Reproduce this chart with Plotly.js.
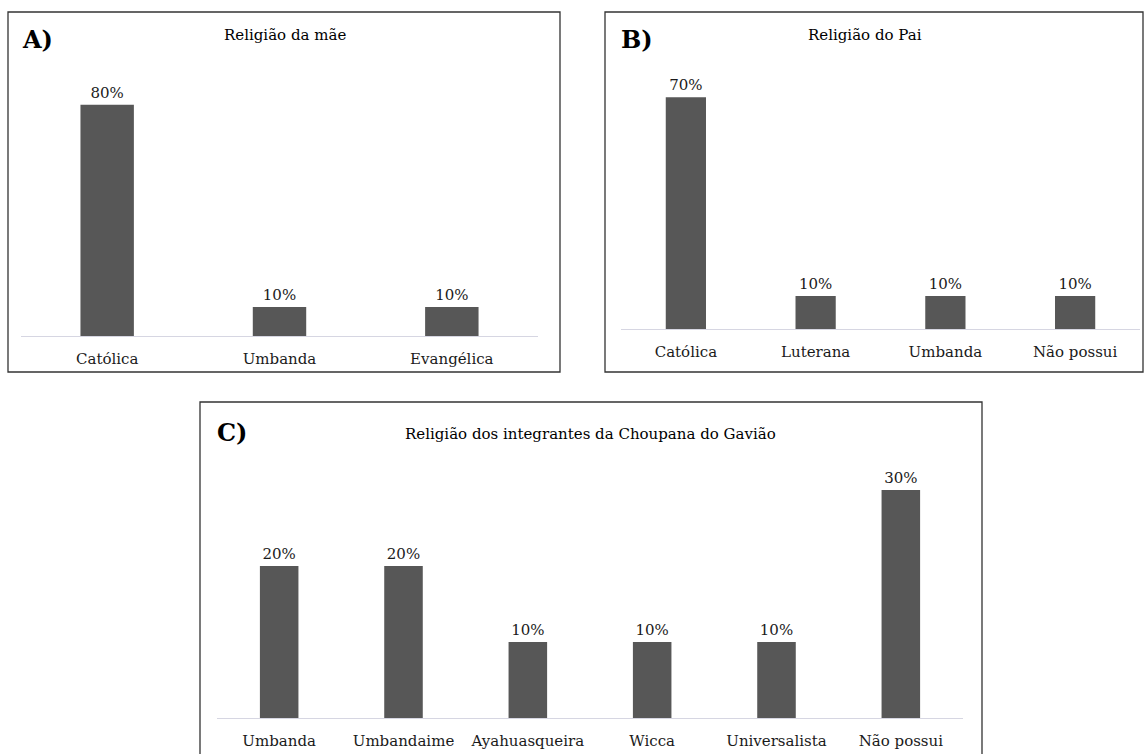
<!DOCTYPE html>
<html>
<head>
<meta charset="utf-8">
<script src="https://cdn.plot.ly/plotly-3.0.1.min.js"></script>
<style>html,body{margin:0;padding:0;background:#fff;}#chart{width:1145px;height:754px;}</style>
</head>
<body>
<div id="chart"></div>
<script>
// ---- Data ----
const maeCategories = ["Católica", "Umbanda", "Evangélica"];
const maeValues = [80, 10, 10];
const paiCategories = ["Católica", "Luterana", "Umbanda", "Não possui"];
const paiValues = [70, 10, 10, 10];
const grupoCategories = ["Umbanda", "Umbandaime", "Ayahuasqueira", "Wicca", "Universalista", "Não possui"];
const grupoValues = [20, 20, 10, 10, 10, 30];
const titles = ["Religião da mãe", "Religião do Pai", "Religião dos integrantes da Choupana do Gavião"];
const panelLabels = ["A)", "B)", "C)"];

// ---- Layout helpers ----
const W = 1145, H = 754;
const px = x => x / W;
const py = y => 1 - y / H;
const FONT = "'DejaVu Serif', serif";
const barColor = "#575757";
const txtColor = "#1a1a1a";

function barTrace(cats, vals, xa, ya) {
  return {
    type: "bar", x: cats, y: vals, xaxis: xa, yaxis: ya,
    marker: {color: barColor, line: {width: 0}},
    text: vals.map(v => v + "%"), textposition: "outside",
    textfont: {family: FONT, size: 15, color: txtColor},
    cliponaxis: false, hoverinfo: "skip"
  };
}

const data = [
  barTrace(maeCategories, maeValues, "x", "y"),
  barTrace(paiCategories, paiValues, "x2", "y2"),
  barTrace(grupoCategories, grupoValues, "x3", "y3")
];

function xax(d0, d1, anchor) {
  return {domain: [px(d0), px(d1)], anchor: anchor, showline: true, linecolor: "#d6d6e2", linewidth: 1,
    showgrid: false, zeroline: false, ticks: "", ticklabelstandoff: 9,
    tickfont: {family: FONT, size: 15, color: txtColor}, fixedrange: true};
}
function yax(base, top, pxPer10, anchor) {
  return {domain: [py(base), py(top)], anchor: anchor, range: [0, (base - top) / pxPer10 * 10],
    visible: false, showgrid: false, zeroline: false, fixedrange: true};
}

function ann(text, x, y, size, bold, xanchor) {
  return {text: bold ? "<b>" + text + "</b>" : text, x: px(x), y: py(y), xref: "paper", yref: "paper",
    xanchor: xanchor, yanchor: "middle", showarrow: false,
    font: {family: FONT, size: size, color: "#000"}};
}

const layout = {
  width: W, height: H, margin: {l: 0, r: 0, t: 0, b: 0},
  paper_bgcolor: "#fff", plot_bgcolor: "rgba(0,0,0,0)",
  showlegend: false, bargap: 0.69,
  font: {family: FONT},
  xaxis: xax(21, 538, "y"), yaxis: yax(336, 60, 28.9, "x"),
  xaxis2: xax(621, 1140, "y2"), yaxis2: yax(329, 60, 33.1, "x2"),
  xaxis3: xax(217, 963, "y3"), yaxis3: yax(718, 460, 76, "x3"),
  shapes: [
    {type: "rect", xref: "paper", yref: "paper", x0: px(8), x1: px(560), y0: py(12), y1: py(372), line: {color: "#333", width: 1.3}},
    {type: "rect", xref: "paper", yref: "paper", x0: px(605), x1: px(1143), y0: py(12), y1: py(372), line: {color: "#333", width: 1.3}},
    {type: "rect", xref: "paper", yref: "paper", x0: px(200), x1: px(982), y0: py(402), y1: py(770), line: {color: "#333", width: 1.3}}
  ],
  annotations: [
    ann(titles[0], 285, 35, 15, false, "center"),
    ann(titles[1], 865, 35, 15, false, "center"),
    ann(titles[2], 590, 434, 15, false, "center"),
    ann(panelLabels[0], 20, 40, 24, true, "left"),
    ann(panelLabels[1], 619, 40, 24, true, "left"),
    ann(panelLabels[2], 215, 432, 24, true, "left")
  ]
};

Plotly.newPlot("chart", data, layout, {displayModeBar: false, staticPlot: true});
</script>
</body>
</html>
